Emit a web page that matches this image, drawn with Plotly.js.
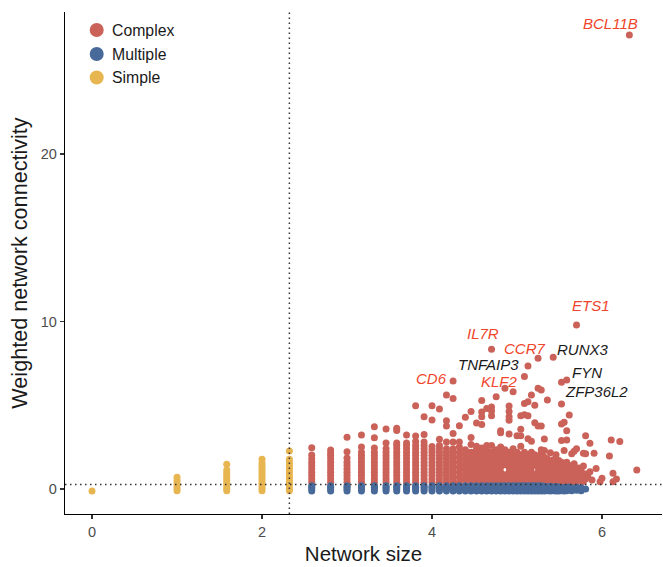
<!DOCTYPE html>
<html>
<head>
<meta charset="utf-8">
<script src="https://cdn.plot.ly/plotly-3.0.1.min.js"></script>
<style>html,body{margin:0;padding:0;background:#fff;}#chart{width:663px;height:567px;}</style>
</head>
<body>
<div id="chart"></div>
<script>
// ---------- data ----------
const groupNames = ['Complex', 'Multiple', 'Simple'];
const groupColors = ['#CB6259', '#486A9A', '#E8B651'];

// network size (number of genes); x axis shows log2(size)
const simpleSizes = [1, 2, 3, 4, 5];
const simpleValues = [
  [-0.12],
  [-0.1, 0.05, 0.2, 0.35, 0.5, 0.7],
  [-0.1, 0.05, 0.2, 0.35, 0.5, 0.65, 0.8, 0.95, 1.13, 1.47],
  [-0.1, 0.05, 0.2, 0.35, 0.5, 0.65, 0.8, 0.95, 1.1, 1.25, 1.4, 1.55, 1.77],
  [-0.1, 0.05, 0.24, 0.4, 0.54, 0.7, 0.84, 1.0, 1.13, 1.3, 1.44, 1.6, 1.77, 2.27]
];

const complexSizes = [6, 7, 8, 9, 10, 11, 12, 13, 14, 15, 16, 17, 18, 19,
  20, 21, 22, 23, 24, 25, 26, 27, 28, 29, 30, 31, 32, 33, 34, 35, 36, 37, 38, 39,
  40, 41, 42, 43, 44, 45, 46, 47, 48, 49, 50, 51, 52, 53, 54, 55, 56, 57, 58, 59,
  60, 61, 63, 64, 68, 69, 70, 72, 74, 80, 85];
const complexValues = [
  [0.4, 0.6, 0.8, 1.0, 1.2, 1.4, 1.6, 1.8, 2.03, 2.47],
  [0.4, 0.6, 0.8, 1.0, 1.2, 1.4, 1.6, 1.8, 2.0, 2.15, 2.33],
  [0.4, 0.6, 0.8, 1.0, 1.2, 1.4, 1.6, 1.85, 2.23, 3.09],
  [0.4, 0.6, 0.8, 1.0, 1.2, 1.4, 1.6, 1.8, 2.0, 2.2, 2.5, 3.22],
  [0.4, 0.6, 0.8, 1.0, 1.2, 1.4, 1.6, 1.8, 2.0, 2.2, 2.45, 3.06, 3.72],
  [0.4, 0.6, 0.8, 1.0, 1.2, 1.4, 1.6, 1.8, 2.0, 2.2, 2.4, 2.74, 3.58],
  [0.4, 0.6, 0.8, 1.0, 1.2, 1.4, 1.6, 1.8, 2.0, 2.2, 2.4, 2.6, 2.74, 3.5, 3.62],
  [0.4, 0.6, 0.8, 1.0, 1.2, 1.4, 1.6, 1.8, 2.0, 2.2, 2.4, 2.6, 2.74, 3.22],
  [0.4, 0.6, 0.8, 1.0, 1.2, 1.4, 1.6, 1.8, 2.0, 2.2, 2.4, 2.6, 2.83, 3.16, 4.97],
  [0.4, 0.6, 0.8, 1.0, 1.2, 1.4, 1.6, 1.8, 2.0, 2.2, 2.4, 2.6, 2.8, 3.26, 4.32],
  [0.4, 0.6, 0.8, 1.0, 1.2, 1.4, 1.6, 1.8, 2.0, 2.2, 2.35, 2.53, 4.12, 4.97],
  [0.4, 0.6, 0.8, 1.0, 1.2, 1.4, 1.6, 1.8, 2.0, 2.2, 2.4, 2.6, 2.97, 4.78],
  [0.4, 0.6, 0.8, 1.0, 1.2, 1.4, 1.6, 1.8, 2.0, 2.2, 2.4, 2.8, 3.76, 4.08, 5.61],
  [0.4, 0.6, 0.8, 1.0, 1.2, 1.4, 1.6, 1.8, 2.0, 2.2, 2.4, 2.8, 3.32, 5.41, 6.45],
  [0.4, 0.7, 1.0, 1.3, 1.6, 1.9, 2.2, 2.5, 2.8, 3.78],
  [0.55, 0.85, 1.15, 1.45, 1.75, 2.05, 2.35, 4.28],
  [0.4, 0.7, 1.0, 1.3, 1.6, 1.9, 2.2, 2.65, 3.08, 4.62],
  [0.55, 0.85, 1.15, 1.45, 1.75, 2.05, 2.35, 2.55, 3.94],
  [0.4, 0.7, 1.0, 1.3, 1.6, 1.9, 2.2, 2.45, 3.85, 4.32, 4.6, 5.28],
  [0.55, 0.85, 1.15, 1.45, 1.75, 2.05, 2.3, 2.6, 4.8],
  [0.4, 0.7, 1.0, 1.3, 1.6, 1.9, 2.2, 2.6, 4.38, 4.66, 4.9, 8.34],
  [0.55, 0.85, 1.15, 1.45, 1.75, 2.05, 2.35, 5.51],
  [0.4, 0.7, 1.0, 1.3, 1.6, 1.9, 2.2, 2.5, 3.36, 3.48],
  [0.55, 0.85, 1.45, 1.75, 2.05, 2.35, 6.01],
  [0.4, 0.7, 1.0, 1.3, 1.6, 1.9, 2.2, 3.28, 4.1, 4.32, 4.62, 4.96],
  [0.55, 0.85, 1.15, 1.45, 1.75, 2.05, 2.4, 5.81],
  [0.4, 0.7, 1.0, 1.3, 1.6, 1.9, 2.2, 3.18],
  [0.55, 0.85, 1.15, 1.45, 1.75, 2.05, 2.55, 3.18, 3.56, 4.38],
  [0.4, 0.7, 1.0, 1.3, 1.6, 1.9, 2.2, 4.44, 5.1, 6.71],
  [0.55, 0.85, 1.15, 1.45, 1.75, 2.05, 3.0, 4.38, 5.21, 7.34],
  [0.4, 0.7, 1.0, 1.3, 1.6, 1.9, 2.2, 2.85, 5.61],
  [0.55, 0.85, 1.45, 1.75, 2.05, 3.96, 5.0],
  [0.4, 0.7, 1.0, 1.3, 1.6, 1.9, 3.76, 6.01, 7.8],
  [0.55, 0.85, 1.15, 1.45, 1.75, 2.17, 2.35, 3.76, 5.91],
  [0.4, 0.7, 1.0, 1.3, 1.6, 1.9, 2.3, 2.98],
  [0.55, 0.85, 1.15, 1.45, 1.8, 5.31],
  [0.4, 0.7, 1.0, 1.3, 1.6, 2.17],
  [0.55, 0.85, 1.15, 1.5, 1.75, 7.86],
  [0.4, 0.7, 1.0, 1.3, 2.05],
  [0.55, 0.85, 1.15, 1.45, 1.7],
  [0.4, 0.7, 1.0, 1.3, 1.6, 2.9, 3.88, 5.07, 6.37],
  [0.55, 0.85, 1.15, 1.45, 2.3, 3.98],
  [0.4, 0.7, 1.0, 1.3, 1.6, 2.92, 3.48, 6.51],
  [0.55, 0.85, 1.15, 1.4, 4.42],
  [0.4, 0.7, 1.0, 1.3, 2.1],
  [0.55, 0.85, 1.15, 1.5, 2.25],
  [0.4, 0.7, 1.0, 2.4, 9.79],
  [0.55, 0.85, 1.25],
  [0.54, 0.8, 1.1],
  [0.45, 0.7, 1.38, 2.13],
  [0.6, 0.9, 2.1, 3.18],
  [0.74],
  [1.03, 2.73],
  [0.54],
  [2.13],
  [1.23],
  [0.44],
  [0.64],
  [1.97],
  [2.92],
  [0.44, 0.94],
  [0.6],
  [2.83],
  [27.1],
  [1.13]
];

const multipleSizes = [6, 7, 8, 9, 10, 11, 12, 13, 14, 15, 16, 17, 18, 19,
  20, 21, 22, 23, 24, 25, 26, 27, 28, 29, 30, 31, 32, 33, 34, 35, 36, 37, 38, 39,
  40, 41, 42, 43, 44, 45, 46, 47, 48, 49, 50, 52, 54, 56];
const multipleValues = [
  [-0.12, 0.0, 0.1, 0.2], [-0.12, 0.0, 0.1, 0.2], [-0.12, 0.0, 0.1, 0.2], [-0.12, 0.0, 0.1, 0.2],
  [-0.12, 0.0, 0.1, 0.2], [-0.12, 0.0, 0.1, 0.2], [-0.12, 0.0, 0.1, 0.2], [-0.12, 0.0, 0.1, 0.2],
  [-0.12, 0.0, 0.1, 0.2], [-0.12, 0.0, 0.1, 0.2], [-0.12, 0.0, 0.1, 0.2], [-0.12, 0.0, 0.1, 0.2],
  [-0.12, 0.0, 0.1, 0.2], [-0.12, 0.0, 0.1, 0.2],
  [-0.12, 0.05, 0.2], [-0.12, 0.05, 0.2], [-0.12, 0.05, 0.2], [-0.12, 0.05, 0.2],
  [-0.12, 0.05, 0.2], [-0.12, 0.05, 0.2], [-0.12, 0.05, 0.2], [-0.12, 0.05, 0.2],
  [-0.12, 0.05, 0.2], [-0.12, 0.05, 0.2], [-0.12, 0.05, 0.2], [-0.12, 0.05, 0.2],
  [-0.12, 0.05, 0.2], [-0.12, 0.05, 0.2], [-0.12, 0.05, 0.2], [-0.12, 0.05, 0.2],
  [-0.12, 0.05, 0.2], [-0.12, 0.05, 0.2], [-0.12, 0.05, 0.2], [-0.12, 0.05, 0.2],
  [-0.12, 0.05, 0.17], [-0.1, 0.12], [-0.12, 0.05, 0.17], [-0.1, 0.12],
  [-0.12, 0.05, 0.15], [-0.12, 0.12], [-0.1, 0.05], [-0.12, 0.1],
  [-0.1, 0.1], [-0.05, 0.12], [-0.1, 0.08], [-0.08, 0.1], [-0.1, 0.08], [0.0]
];

// highlighted genes
const labelGenes = ['BCL11B', 'ETS1', 'IL7R', 'CCR7', 'RUNX3', 'TNFAIP3', 'CD6', 'KLF2', 'FYN', 'ZFP36L2'];
const labelSizes = [80, 52, 26, 38, 43, 35, 19, 34, 48, 46];
const labelValues = [27.1, 9.79, 8.34, 7.8, 7.86, 7.34, 6.45, 6.71, 6.51, 6.37];
const labelHighlighted = [true, true, true, true, false, false, true, true, false, false];

// ---------- styling (pixel offsets of the repelled labels) ----------
const labelShiftX = [-19, 14, -9, -14, 30, -39, -22, -25, 20, 35];
const labelShiftY = [12, 20, 16, 10, 8, 2, 2, -5, 7, -9];

function flatten(sizes, values) {
  const xs = [], ys = [];
  sizes.forEach((n, i) => values[i].forEach(v => { xs.push(Math.log2(n)); ys.push(v); }));
  return {xs, ys};
}

const c = flatten(complexSizes, complexValues);
const m = flatten(multipleSizes, multipleValues);
const s = flatten(simpleSizes, simpleValues);

const mk = (d, color, name) => ({
  type: 'scatter', mode: 'markers', x: d.xs, y: d.ys, name: name, showlegend: false,
  marker: {color: color, size: 7, line: {width: 0}}, hoverinfo: 'x+y+name'
});

const traces = [
  mk(c, groupColors[0], groupNames[0]),
  mk(m, groupColors[1], groupNames[1]),
  mk(s, groupColors[2], groupNames[2])
];

const FONT = 'Liberation Sans, Arial, Helvetica, sans-serif';

const annotations = labelGenes.map((g, i) => ({
  x: Math.log2(labelSizes[i]), y: labelValues[i], xref: 'x', yref: 'y',
  text: '<i>' + g + '</i>', showarrow: false,
  xshift: labelShiftX[i], yshift: labelShiftY[i],
  font: {family: FONT, size: 15, color: labelHighlighted[i] ? '#F0452B' : '#1a1a1a'}
}));

// manual legend
const legendY = [0.9641, 0.9163, 0.8695];
const dotLine = {color: '#333333', width: 1.5, dash: '1.5px,3.5px'};
const shapes = [
  {type: 'line', xref: 'x', yref: 'paper', x0: Math.log2(5), x1: Math.log2(5), y0: 0, y1: 1,
   line: dotLine, layer: 'above'},
  {type: 'line', xref: 'paper', yref: 'y', x0: 0, x1: 1, y0: 0.27, y1: 0.27,
   line: dotLine, layer: 'above'}
];
groupNames.forEach((g, i) => {
  shapes.push({type: 'circle', xref: 'paper', yref: 'paper', xsizemode: 'pixel', ysizemode: 'pixel',
    xanchor: 0.0531, yanchor: legendY[i], x0: -7, x1: 7, y0: -7, y1: 7,
    fillcolor: groupColors[i], line: {width: 0}});
  annotations.push({xref: 'paper', yref: 'paper', x: 0.0754, y: legendY[i], xanchor: 'left', yanchor: 'middle',
    text: g, showarrow: false, font: {family: FONT, size: 15.8, color: '#1a1a1a'}});
});

const layout = {
  width: 663, height: 567,
  margin: {l: 65, r: 1, t: 12, b: 53, pad: 0},
  paper_bgcolor: '#ffffff', plot_bgcolor: '#ffffff',
  font: {family: FONT},
  showlegend: false,
  xaxis: {
    range: [-0.318, 6.706], tickvals: [0, 2, 4, 6], ticktext: ['0', '2', '4', '6'],
    showgrid: false, zeroline: false, showline: true, linecolor: '#000', linewidth: 1.2,
    ticks: 'outside', ticklen: 4, tickcolor: '#333', tickwidth: 1.1,
    tickfont: {family: FONT, size: 14.5, color: '#4d4d4d'},
    title: {text: 'Network size', font: {family: FONT, size: 20.5, color: '#1a1a1a'}, standoff: 8}
  },
  yaxis: {
    range: [-1.493, 28.48], tickvals: [0, 10, 20], ticktext: ['0', '10', '20'],
    showgrid: false, zeroline: false, showline: true, linecolor: '#000', linewidth: 1.2,
    ticks: 'outside', ticklen: 4, tickcolor: '#333', tickwidth: 1.1,
    tickfont: {family: FONT, size: 14.5, color: '#4d4d4d'},
    title: {text: 'Weighted network connectivity', font: {family: FONT, size: 21.6, color: '#1a1a1a'}, standoff: 7}
  },
  shapes: shapes,
  annotations: annotations
};

Plotly.newPlot('chart', traces, layout, {displayModeBar: false, staticPlot: true});
</script>
</body>
</html>
